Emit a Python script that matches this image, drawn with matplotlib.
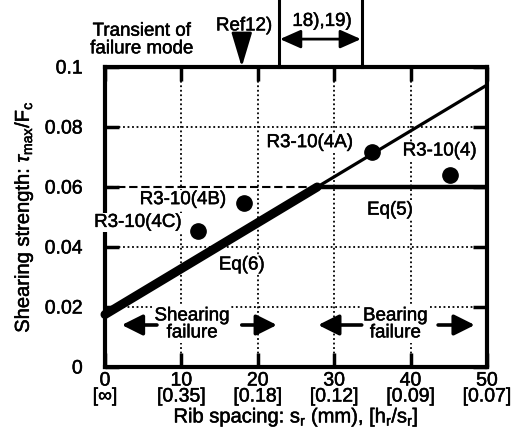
import matplotlib
matplotlib.use("Agg")
import matplotlib.pyplot as plt
import matplotlib.patheffects as pe
from matplotlib.text import Text

plt.rcParams['font.family'] = ['Liberation Sans', 'DejaVu Sans']
plt.rcParams['mathtext.fontset'] = 'custom'
plt.rcParams['mathtext.rm'] = 'Liberation Sans'
plt.rcParams['mathtext.it'] = 'Liberation Sans:italic'

# Test specimens
spec_names = ['R3-10(4C)', 'R3-10(4B)', 'R3-10(4A)', 'R3-10(4)']
spec_x = [12.2, 18.2, 35.0, 45.2]
spec_y = [0.0452, 0.0548, 0.0715, 0.0640]

# Eq(6): linear shearing-failure strength, Eq(5): bearing-failure plateau
eq6_x = [0.0, 50.0]
eq6_y = [0.0175, 0.0940]
eq5_level = 0.060

x_ticks = [0, 10, 20, 30, 40, 50]
x_ratio_labels = ['[\u221e]', '[0.35]', '[0.18]', '[0.12]', '[0.09]', '[0.07]']
y_ticks = [0, 0.02, 0.04, 0.06, 0.08, 0.1]
y_tick_labels = ['0', '0.02', '0.04', '0.06', '0.08', '0.1']

FS = 13.5       # annotations
TFS = 14        # tick labels
LFS = 14.5      # axis labels

fig = plt.figure(figsize=(5.22, 4.44), dpi=100)
ax = fig.add_axes([105/522, 1-367/444, 382/522, 300/444])
ax.set_xlim(0, 50)
ax.set_ylim(0, 0.1)

# grid
dot = (0, (1, 1.5))
for xv in x_ticks[1:-1]:
    ax.plot([xv, xv], [0, 0.1], color='black', lw=1.3, ls=dot, zorder=1)
for yv in y_ticks[1:-1]:
    if yv == eq5_level:
        continue
    ax.plot([0, 50], [yv, yv], color='black', lw=1.3, ls=dot, zorder=1)

# intersection of Eq(5) and Eq(6)
slope = (eq6_y[1] - eq6_y[0]) / (eq6_x[1] - eq6_x[0])
x_int = (eq5_level - eq6_y[0]) / slope

# Eq(6) thick until transition, thin beyond
ax.plot([eq6_x[0], x_int], [eq6_y[0], eq5_level], color='black', lw=6.5,
        solid_capstyle='round', zorder=4, clip_on=False)
ax.plot([x_int, eq6_x[1]], [eq5_level, eq6_y[1]], color='black', lw=2.3, zorder=4)
# Eq(5) dashed before transition, thick beyond
ax.plot([0, x_int], [eq5_level, eq5_level], color='black', lw=1.5, ls=(0, (4, 1.8)), zorder=3)
ax.plot([x_int, 50], [eq5_level, eq5_level], color='black', lw=3.2, zorder=4)

# specimens
ax.plot(spec_x, spec_y, 'o', color='black', ms=11, zorder=5)

bbox_w = dict(facecolor='white', edgecolor='none', pad=0.5)
label_pos = [(4.3, 0.0482), (10.2, 0.0558), (26.8, 0.0748), (43.8, 0.0720)]
for name, (lx, ly) in zip(spec_names, label_pos):
    ax.text(lx, ly, name, ha='center', va='center', fontsize=FS, bbox=bbox_w,
            zorder=10, clip_on=False)
ax.text(37.3, 0.0523, 'Eq(5)', ha='center', va='center', fontsize=FS, bbox=bbox_w, zorder=6)
ax.text(17.9, 0.0340, 'Eq(6)', ha='center', va='center', fontsize=FS, bbox=bbox_w, zorder=6)

# failure regions
ax.text(11.4, 0.0142, 'Shearing\nfailure', ha='center', va='center', fontsize=FS,
        linespacing=1.0, bbox=dict(facecolor='white', edgecolor='none', pad=1), zorder=6)
ax.text(38.0, 0.0142, 'Bearing\nfailure', ha='center', va='center', fontsize=FS,
        linespacing=1.0, bbox=dict(facecolor='white', edgecolor='none', pad=1), zorder=6)
arrow_kw = dict(arrowstyle='-|>,head_length=0.9,head_width=0.45', color='black', lw=2.6,
                mutation_scale=14, shrinkA=0, shrinkB=0)
for x0, x1 in [(6.8, 2.2), (17.9, 22.5), (33.6, 27.9), (43.6, 48.4)]:
    ax.annotate('', xy=(x1, 0.0140), xytext=(x0, 0.0140), arrowprops=arrow_kw, zorder=7)

# transient of failure mode (above the frame)
ax.text(4.8, 0.1090, 'Transient of\nfailure mode', ha='center', va='center',
        fontsize=FS, linespacing=1.05, clip_on=False)
ax.text(18.2, 0.1137, 'Ref12)', ha='center', va='center', fontsize=FS, clip_on=False)
ax.annotate('', xy=(17.9, 0.1), xytext=(17.9, 0.1092),
            arrowprops=dict(arrowstyle='-|>,head_length=1.5,head_width=0.45', color='black',
                            lw=2.0, mutation_scale=14, shrinkA=0, shrinkB=0),
            annotation_clip=False)
for xv in [22.8, 33.6]:
    ax.plot([xv, xv], [0.1, 0.123], color='black', lw=2.2, clip_on=False)
ax.annotate('', xy=(22.9, 0.1093), xytext=(33.5, 0.1093),
            arrowprops=dict(arrowstyle='<|-|>,head_length=0.9,head_width=0.4', color='black',
                            lw=2.0, mutation_scale=14, shrinkA=0, shrinkB=0),
            annotation_clip=False)
ax.text(28.4, 0.1152, '18),19)', ha='center', va='center', fontsize=FS, clip_on=False)

# axes styling
for sp in ax.spines.values():
    sp.set_linewidth(3.0)
    sp.set_zorder(8)
ax.set_xticks(x_ticks)
ax.set_xticklabels([f'{t}\n{r}' for t, r in zip(x_ticks, x_ratio_labels)])
ax.set_yticks(y_ticks)
ax.set_yticklabels(y_tick_labels)
ax.tick_params(direction='in', length=10, width=2.5, top=True, right=True,
               labelsize=TFS)
ax.tick_params(axis='y', pad=16)
ax.tick_params(axis='x', pad=4)
for lbl in ax.get_xticklabels():
    lbl.set_linespacing(0.92)

ax.set_xlabel(r'Rib spacing: s$_{\mathrm{r}}$ (mm), [h$_{\mathrm{r}}$/s$_{\mathrm{r}}$]',
              fontsize=LFS, labelpad=0)
ax.set_ylabel(r'Shearing strength: $\tau_{\mathrm{max}}$/F$_{\mathrm{c}}$', fontsize=LFS,
              labelpad=7)

# slightly heavier glyphs
for t in fig.findobj(Text):
    t.set_path_effects([pe.withStroke(linewidth=0.35, foreground='black')])

fig.savefig('out.png', dpi=100)
